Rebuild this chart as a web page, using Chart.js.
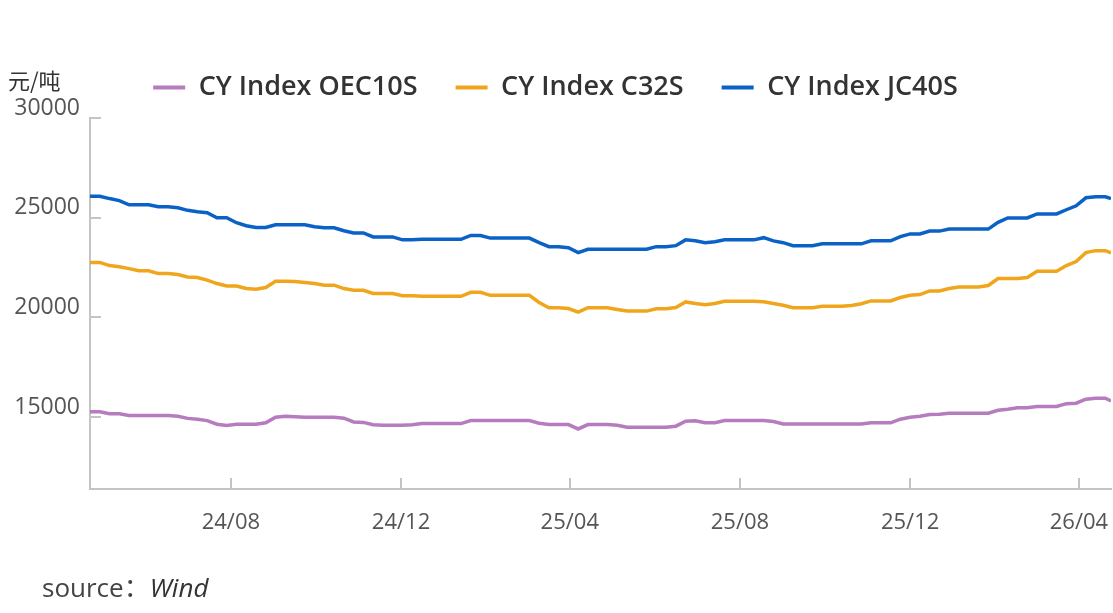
<!DOCTYPE html>
<html>
<head>
<meta charset="utf-8">
<script src="https://cdn.jsdelivr.net/npm/chart.js@4"></script>
<style>
  html, body { margin: 0; padding: 0; background: #fff; }
  #wrap { position: relative; width: 1113px; height: 613px; }
  #c { position: absolute; left: 0; top: 0; }
  .unit { position: absolute; left: 8px; top: 63px; font: 22px "Noto Sans CJK SC", "Noto Sans", sans-serif; color: #333; }
  .src { position: absolute; left: 42px; top: 567px; font: 26px "Open Sans", "Noto Sans CJK SC", sans-serif; color: #444; }
  .src i { font-style: italic; color: #333; }
</style>
</head>
<body>
<div id="wrap">
  <canvas id="c" width="1113" height="613"></canvas>
  <div class="unit">元/吨</div>
  <div class="src">source<span style="font-family:'Noto Sans CJK SC'">：</span><i>Wind</i></div>
</div>
<script>
const dates = [
  '2024-04-22','2024-04-29','2024-05-06','2024-05-13','2024-05-20','2024-05-27',
  '2024-06-03','2024-06-10','2024-06-17','2024-06-24','2024-07-01','2024-07-08',
  '2024-07-15','2024-07-22','2024-07-29','2024-08-05','2024-08-12','2024-08-19',
  '2024-08-26','2024-09-02','2024-09-09','2024-09-16','2024-09-23','2024-09-30',
  '2024-10-07','2024-10-14','2024-10-21','2024-10-28','2024-11-04','2024-11-11',
  '2024-11-18','2024-11-25','2024-12-02','2024-12-09','2024-12-16','2024-12-23',
  '2024-12-30','2025-01-06','2025-01-13','2025-01-20','2025-01-27','2025-02-03',
  '2025-02-10','2025-02-17','2025-02-24','2025-03-03','2025-03-10','2025-03-17',
  '2025-03-24','2025-03-31','2025-04-07','2025-04-14','2025-04-21','2025-04-28',
  '2025-05-05','2025-05-12','2025-05-19','2025-05-26','2025-06-02','2025-06-09',
  '2025-06-16','2025-06-23','2025-06-30','2025-07-07','2025-07-14','2025-07-21',
  '2025-07-28','2025-08-04','2025-08-11','2025-08-18','2025-08-25','2025-09-01',
  '2025-09-08','2025-09-15','2025-09-22','2025-09-29','2025-10-06','2025-10-13',
  '2025-10-20','2025-10-27','2025-11-03','2025-11-10','2025-11-17','2025-11-24',
  '2025-12-01','2025-12-08','2025-12-15','2025-12-22','2025-12-29','2026-01-05',
  '2026-01-12','2026-01-19','2026-01-26','2026-02-02','2026-02-09','2026-02-16',
  '2026-02-23','2026-03-02','2026-03-09','2026-03-16','2026-03-23','2026-03-30',
  '2026-04-06','2026-04-13','2026-04-20','2026-04-24'
];

const oec10s = [
  15270,15270,15170,15170,15090,15090,15090,15090,15090,15050,14940,14900,
  14830,14650,14580,14650,14650,14650,14720,15000,15050,15020,15000,15000,
  15000,15000,14950,14760,14740,14620,14600,14600,14600,14620,14680,14680,
  14680,14680,14680,14830,14830,14830,14830,14830,14830,14830,14700,14630,
  14630,14630,14410,14630,14630,14630,14600,14500,14500,14500,14500,14500,
  14550,14800,14820,14720,14720,14830,14830,14830,14830,14830,14780,14660,
  14660,14660,14660,14660,14660,14660,14660,14660,14720,14720,14720,14900,
  15000,15050,15130,15150,15200,15200,15200,15200,15200,15350,15400,15470,
  15470,15540,15540,15540,15680,15700,15900,15950,15950,15810
];

const c32s = [
  22760,22760,22600,22540,22450,22340,22340,22200,22200,22150,22030,22000,
  21870,21700,21580,21580,21450,21410,21500,21820,21820,21800,21750,21700,
  21620,21620,21450,21360,21360,21200,21200,21200,21090,21090,21060,21060,
  21060,21060,21060,21260,21260,21110,21110,21110,21110,21110,20750,20490,
  20490,20450,20270,20490,20490,20490,20400,20320,20320,20320,20440,20440,
  20500,20780,20700,20640,20700,20810,20810,20810,20810,20790,20700,20610,
  20490,20490,20490,20560,20560,20560,20600,20690,20830,20830,20830,21000,
  21110,21150,21330,21330,21450,21530,21530,21530,21600,21950,21950,21950,
  22000,22320,22320,22320,22600,22800,23250,23350,23350,23240
];

const jc40s = [
  26080,26080,25960,25860,25650,25650,25650,25550,25550,25500,25370,25300,
  25250,25000,25000,24750,24600,24510,24510,24650,24650,24650,24650,24550,
  24500,24500,24350,24240,24240,24040,24040,24040,23890,23890,23920,23920,
  23920,23920,23920,24110,24110,23980,23980,23980,23980,23980,23750,23550,
  23550,23500,23250,23420,23420,23420,23420,23420,23420,23420,23550,23550,
  23600,23890,23850,23750,23800,23890,23890,23890,23890,24000,23840,23750,
  23600,23600,23600,23690,23690,23690,23690,23690,23840,23840,23840,24050,
  24190,24190,24330,24330,24430,24430,24430,24430,24430,24770,24990,24990,
  24990,25190,25190,25190,25400,25600,26000,26050,26050,25960
];

const seriesNames = ['CY Index OEC10S', 'CY Index C32S', 'CY Index JC40S'];
const seriesColors = ['#B77BC0', '#F0A61C', '#0A62C6'];

const tickDates = ['2024-08-01','2024-12-01','2025-04-01','2025-08-01','2025-12-01','2026-04-01'];
const tickLabels = ['24/08','24/12','25/04','25/08','25/12','26/04'];
const yTicks = [15000, 20000, 25000, 30000];

const DAY = 86400000;
const t0 = Date.parse(dates[0] + 'T00:00:00Z');
const dayNum = d => (Date.parse(d + 'T00:00:00Z') - t0) / DAY;

const seriesValues = [oec10s, c32s, jc40s];
const datasets = seriesValues.map((vals, k) => ({
  label: seriesNames[k],
  data: dates.map((d, i) => ({ x: dayNum(d), y: vals[i] })),
  borderColor: seriesColors[k],
  backgroundColor: seriesColors[k],
  borderWidth: 3.5,
  pointRadius: 0,
  tension: 0,
  fill: false
}));

const axisColor = '#c4c4c4';
const labelColor = '#555';

// extra space below the legend before the plot area
const legendGap = {
  id: 'legendGap',
  beforeLayout(chart) {
    const lg = chart.legend;
    if (lg && !lg._gapPatched) {
      const f = lg.fit;
      lg.fit = function () { f.call(this); this.height += 7; };
      lg._gapPatched = true;
    }
  }
};

new Chart(document.getElementById('c'), {
  type: 'line',
  data: { datasets },
  plugins: [legendGap],
  options: {
    responsive: false,
    animation: false,
    devicePixelRatio: 1,
    layout: { padding: { left: 0, right: 2, top: 36, bottom: 0 } },
    plugins: {
      tooltip: { enabled: false },
      legend: {
        position: 'top',
        align: 'center',
        labels: {
          boxWidth: 32,
          boxHeight: 4,
          padding: 38,
          color: '#333',
          font: { family: "'Open Sans', 'Noto Sans', sans-serif", size: 27, weight: '600' },
          generateLabels: chart => chart.data.datasets.map((ds, i) => ({
            text: ds.label,
            fillStyle: ds.borderColor,
            strokeStyle: ds.borderColor,
            lineWidth: 0,
            hidden: false,
            datasetIndex: i,
            fontColor: '#333'
          }))
        }
      }
    },
    scales: {
      x: {
        type: 'linear',
        min: 0,
        max: dayNum(dates[dates.length - 1]),
        afterBuildTicks: s => { s.ticks = tickDates.map(d => ({ value: dayNum(d) })); },
        afterFit: s => { s.height = 124; s.paddingLeft = 0; s.paddingRight = 0; },
        border: { display: true, color: axisColor, width: 2 },
        grid: { display: true, drawOnChartArea: false, drawTicks: true, tickLength: -11, color: axisColor, lineWidth: 2 },
        ticks: {
          padding: 32,
          maxRotation: 0,
          autoSkip: false,
          color: labelColor,
          font: { family: "'Open Sans', 'Noto Sans', sans-serif", size: 22 },
          callback: (v, i) => tickLabels[i]
        }
      },
      y: {
        type: 'linear',
        min: 11400,
        max: 30000,
        afterBuildTicks: s => { s.ticks = yTicks.map(v => ({ value: v })); },
        afterFit: s => { s.width = 90; s.paddingTop = 0; s.paddingBottom = 0; },
        border: { display: true, color: axisColor, width: 2 },
        grid: { display: true, drawOnChartArea: false, drawTicks: true, tickLength: -11, color: axisColor, lineWidth: 2 },
        ticks: {
          padding: 21,
          labelOffset: -10,
          color: labelColor,
          font: { family: "'Open Sans', 'Noto Sans', sans-serif", size: 23 },
          callback: v => String(v)
        }
      }
    }
  }
});
</script>
</body>
</html>
